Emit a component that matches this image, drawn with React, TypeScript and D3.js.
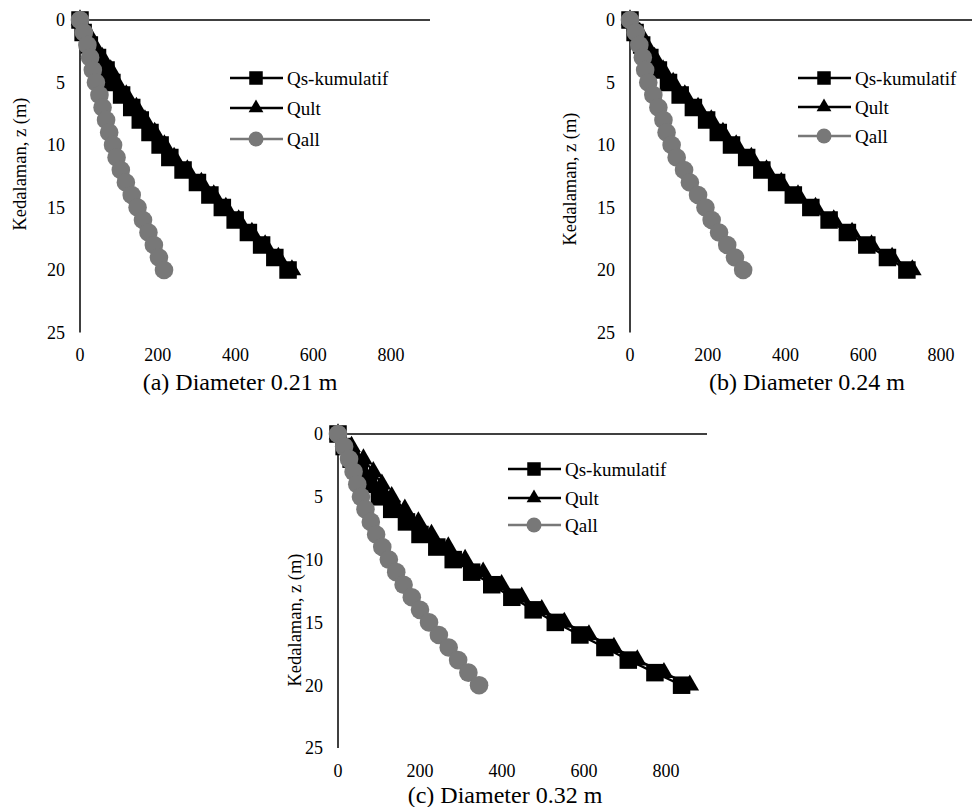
import React from "react";
import * as d3 from "d3";

// ---- data ----
const depth = [0, 1, 2, 3, 4, 5, 6, 7, 8, 9, 10, 11, 12, 13, 14, 15, 16, 17, 18, 19, 20];

const qsA = [0, 8, 24, 45, 67, 82, 107, 133, 155, 180, 206, 231, 265, 302, 334, 366, 399, 433, 467, 501, 535];
const qultA = [0, 20, 36, 57, 79, 94, 119, 145, 167, 192, 217, 242, 276, 312, 344, 375, 408, 442, 476, 510, 545];
const qallA = [0, 10, 19, 26, 33, 41, 50, 58, 67, 75, 85, 94, 105, 118, 133, 148, 162, 176, 190, 203, 216];

const qsB = [0, 13, 30, 51, 73, 99, 129, 163, 197, 227, 261, 300, 339, 377, 420, 465, 512, 559, 609, 662, 712];
const qultB = [0, 25, 42, 63, 85, 111, 141, 175, 209, 239, 273, 312, 351, 389, 432, 477, 524, 571, 621, 674, 726];
const qallB = [0, 15, 24, 33, 39, 47, 60, 73, 86, 94, 107, 120, 139, 154, 175, 194, 210, 229, 250, 270, 291];

const qsC = [0, 15, 32, 52, 74, 101, 131, 167, 200, 241, 281, 326, 375, 424, 476, 530, 590, 651, 708, 773, 838];
const qultC = [0, 33, 62, 86, 107, 131, 163, 196, 228, 269, 310, 354, 399, 448, 497, 552, 612, 673, 730, 795, 858];
const qallC = [0, 15, 27, 38, 47, 56, 67, 80, 93, 108, 124, 142, 160, 180, 200, 222, 246, 270, 293, 318, 344];

const xTicks = [0, 200, 400, 600, 800];
const yTicks = [0, 5, 10, 15, 20, 25];
const seriesNames = ["Qs-kumulatif", "Qult", "Qall"];
const captions = ["(a) Diameter 0.21 m", "(b) Diameter 0.24 m", "(c) Diameter 0.32 m"];
const yTitle = "Kedalaman, z (m)";

// ---- layout ----
const panels = [
  { qs: qsA, qult: qultA, qall: qallA, caption: captions[0], x0: 80, x1: 430, y0: 20, y1: 332.5, tickBase: 361, capX: 240, capBase: 390, titleX: 20, titleY: 164, legX: 230, legRows: [78, 108, 139] },
  { qs: qsB, qult: qultB, qall: qallB, caption: captions[1], x0: 630, x1: 980, y0: 20, y1: 332.5, tickBase: 361, capX: 807, capBase: 390, titleX: 570, titleY: 179, legX: 798, legRows: [78, 107, 136] },
  { qs: qsC, qult: qultC, qall: qallC, caption: captions[2], x0: 338, x1: 707, y0: 434, y1: 748, tickBase: 777, capX: 505, capBase: 803, titleX: 295, titleY: 620, legX: 508, legRows: [469, 498, 525] },
];

const FONT = "'Liberation Serif', 'Times New Roman', 'DejaVu Serif', serif";
const GRAY = "#787878";
const SQ = 17.5;
const triPath = d3.symbol(d3.symbolTriangle, 150)() as string;
const triLeg = d3.symbol(d3.symbolTriangle, 95)() as string;

function Marker({ kind, x, y, leg }: { kind: number; x: number; y: number; leg?: boolean }) {
  const s = leg ? 13.5 : SQ;
  if (kind === 0) return <rect x={x - s / 2} y={y - s / 2} width={s} height={s} fill="#000" />;
  if (kind === 1) return <path d={leg ? triLeg : triPath} transform={`translate(${x},${y})`} fill="#000" />;
  return <circle cx={x} cy={y} r={leg ? 7.5 : 9.3} fill={GRAY} />;
}

function Panel({ p }: { p: (typeof panels)[number] }) {
  const x = d3.scaleLinear().domain([0, 900]).range([p.x0, p.x1]);
  const y = d3.scaleLinear().domain([0, 25]).range([p.y0, p.y1]);
  const series = [p.qs, p.qult, p.qall];
  const colors = ["#000", "#000", GRAY];
  const line = (vals: number[]) =>
    d3.line<number>().x((v) => x(v)).y((_, i) => y(depth[i]))(vals) as string;
  const txt = { fontFamily: FONT };
  return (
    <g>
      {/* axes */}
      <line x1={x(0)} x2={x(900)} y1={y(0)} y2={y(0)} stroke="#000" strokeWidth={1.5} />
      <line x1={x(0)} x2={x(0)} y1={y(0)} y2={y(25)} stroke="#000" strokeWidth={1.5} />
      {yTicks.map((t) => (
        <text key={"y" + t} x={x(0) - 15} y={y(t)} dy="0.35em" textAnchor="end" fontSize={18} style={txt}>
          {t}
        </text>
      ))}
      {xTicks.map((t) => (
        <text key={"x" + t} x={x(t)} y={p.tickBase} textAnchor="middle" fontSize={18} style={txt}>
          {t}
        </text>
      ))}
      <text
        transform={`translate(${p.titleX},${p.titleY}) rotate(-90)`}
        dy="0.35em"
        textAnchor="middle"
        fontSize={18.5}
        style={txt}
      >
        {yTitle}
      </text>
      <text x={p.capX} y={p.capBase} textAnchor="middle" fontSize={24} style={txt}>
        {p.caption}
      </text>
      {/* series */}
      {series.map((vals, si) => (
        <g key={"s" + si}>
          <path d={line(vals)} fill="none" stroke={colors[si]} strokeWidth={2.25} />
          {vals.map((v, i) => (
            <Marker key={i} kind={si} x={x(v)} y={y(depth[i])} />
          ))}
        </g>
      ))}
      {/* legend */}
      {seriesNames.map((n, i) => (
        <g key={"l" + i}>
          <line x1={p.legX} x2={p.legX + 53} y1={p.legRows[i]} y2={p.legRows[i]} stroke={colors[i]} strokeWidth={2.5} />
          <Marker kind={i} x={p.legX + 26} y={p.legRows[i]} leg />
          <text x={p.legX + 57} y={p.legRows[i]} dy="0.35em" fontSize={19} style={txt}>
            {n}
          </text>
        </g>
      ))}
    </g>
  );
}

export default function App() {
  return (
    <svg
      width={972}
      height={807}
      viewBox="0 0 972 807"
      style={{ position: "absolute", left: 0, top: 0, background: "#fff" }}
    >
      <rect width={972} height={807} fill="#fff" />
      {panels.map((p, i) => (
        <Panel key={i} p={p} />
      ))}
    </svg>
  );
}
